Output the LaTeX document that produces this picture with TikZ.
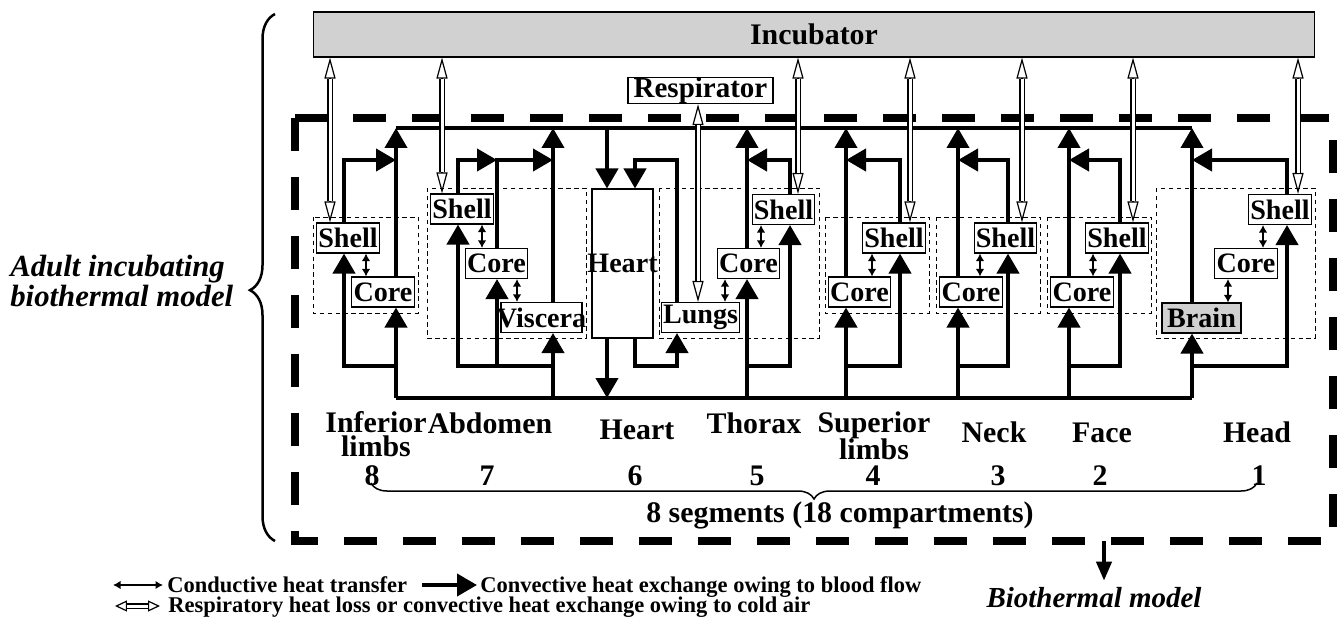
\documentclass[tikz,border=0pt]{standalone}
\usepackage{fontspec}
\setmainfont{Liberation Serif}
\usetikzlibrary{arrows.meta,decorations.pathreplacing}

\begin{document}
\begin{tikzpicture}[
    x=0.02cm, y=-0.02cm,
    font=\bfseries\fontsize{17}{14}\selectfont,
    compartment/.style={
        draw,
        line width=0.6pt,
        fill=white,
        inner xsep=1pt,
        inner ysep=0pt,
        minimum width=1.22cm,
        minimum height=0.6cm,
        font=\bfseries\fontsize{16}{16}\selectfont
    },
    group/.style={draw, line width=0.5pt, dash pattern=on 2.5pt off 2pt},
    boundary/.style={line width=0.17cm, dash pattern=on 0.66cm off 0.52cm},
    vessel/.style={line width=0.08cm},
    blood/.style={vessel, -{Triangle[length=0.4cm,width=0.44cm]}},
    conduction/.style={line width=0.035cm,
        {Latex[length=0.15cm,width=0.17cm]}-{Latex[length=0.15cm,width=0.17cm]}},
    airflow/.style={line width=0.024cm,
        {Triangle[open,length=#1,width=0.22cm]}-{Triangle[open,length=#1,width=0.22cm]},
        postaction={draw, -, double, double distance=0.06cm,
            shorten <=#1, shorten >=#1}},
    airflow/.default=0.42cm,
    segment/.style={inner sep=0pt, align=center,
        font=\bfseries\fontsize{17}{14}\selectfont},
    legend/.style={anchor=base west, inner sep=0pt,
        font=\bfseries\fontsize{12.8}{15}\selectfont}
]
    \useasboundingbox (0,0) rectangle (1338,629);

    % levels of the two main vessels and of the branches
    \coordinate (top) at (0,128);
    \coordinate (up) at (0,160);
    \coordinate (lo) at (0,366);
    \coordinate (bot) at (0,398);

    % x of the risers, of the air arrows and of the conduction arrows
    \coordinate (sh8) at (344,0);  \coordinate (co8) at (396,0);
    \coordinate (in8) at (330,0);  \coordinate (cd8) at (366,0);
    \coordinate (sh7) at (458,0);  \coordinate (co7) at (497,0);
    \coordinate (vi7) at (553,0);  \coordinate (in7) at (442,0);
    \coordinate (cd7) at (482,0);  \coordinate (cv7) at (517,0);
    \coordinate (ha) at (607,0);   \coordinate (hb) at (635,0);
    \coordinate (lu) at (677,0);   \coordinate (re) at (698,0);
    \coordinate (co5) at (747,0);  \coordinate (sh5) at (790,0);
    \coordinate (in5) at (798,0);  \coordinate (cd5) at (761,0);
    \coordinate (cl5) at (725,0);
    \coordinate (co4) at (846,0);  \coordinate (sh4) at (900,0);
    \coordinate (in4) at (910,0);  \coordinate (cd4) at (872,0);
    \coordinate (co3) at (958,0);  \coordinate (sh3) at (1008,0);
    \coordinate (in3) at (1022,0); \coordinate (cd3) at (980,0);
    \coordinate (co2) at (1069,0); \coordinate (sh2) at (1120,0);
    \coordinate (in2) at (1133,0); \coordinate (cd2) at (1093,0);
    \coordinate (br1) at (1192,0); \coordinate (sh1) at (1287,0);
    \coordinate (in1) at (1298,0); \coordinate (cd1) at (1263,0);
    \coordinate (cb1) at (1228,0);

    \draw[boundary] (295,118) rectangle (1333,541);

    \node[compartment, fill=black!18, minimum width=20.04cm, minimum height=0.9cm,
        font=\bfseries\fontsize{17}{17}\selectfont] (incubator) at (814,34.5) {Incubator};
    \node[compartment, minimum width=2.9cm, minimum height=0.5cm,
        font=\bfseries\fontsize{16.5}{16.5}\selectfont] (respirator) at (700.5,90.5) {Respirator};

    % segment 8
    \draw[group] (313,217) rectangle (418,313);
    \node[compartment] (shell8) at (348,238) {Shell};
    \node[compartment] (core8) at (383,292) {Core};
    % segment 7
    \draw[group] (427,188) rectangle (586,338);
    \node[compartment] (shell7) at (462,209) {Shell};
    \node[compartment] (core7) at (496.5,263.5) {Core};
    \node[compartment, minimum width=1.62cm] (viscera7) at (541.5,317.5) {\makebox[0pt]{Viscera}};
    % segment 6
    \node[compartment, minimum height=2.98cm] (heart) at (622.5,263.5) {\makebox[0pt]{Heart}};
    % segment 5
    \draw[group] (659,188) rectangle (819,338);
    \node[compartment, minimum width=1.5cm] (lungs5) at (700.5,317.5) {Lungs};
    \node[compartment] (core5) at (748.5,263.5) {Core};
    \node[compartment] (shell5) at (783.5,209.5) {Shell};
    % segment 4
    \draw[group] (825,217) rectangle (929,313);
    \node[compartment] (core4) at (859.5,292) {Core};
    \node[compartment] (shell4) at (894,238) {Shell};
    % segment 3
    \draw[group] (936,217) rectangle (1040,313);
    \node[compartment] (core3) at (971,292) {Core};
    \node[compartment] (shell3) at (1005.5,238) {Shell};
    % segment 2
    \draw[group] (1047,217) rectangle (1151,313);
    \node[compartment] (core2) at (1082,292) {Core};
    \node[compartment] (shell2) at (1117,238) {Shell};
    % segment 1
    \draw[group] (1156,188) rectangle (1315,338);
    \node[compartment, fill=black!18, minimum width=1.58cm] (brain1) at (1201.5,318) {Brain};
    \node[compartment] (core1) at (1246,263.5) {Core};
    \node[compartment] (shell1) at (1280,209.5) {Shell};

    % main vessels
    \draw[vessel] (co8 |- top) -- (br1 |- top);
    \draw[vessel] (co8 |- bot) -- (br1 |- bot);

    % blood flow, segment 8
    \draw[blood] (co8 |- bot) -- (co8 |- core8.south);
    \draw[blood] (co8 |- lo) -| (sh8 |- shell8.south);
    \draw[blood] (sh8 |- shell8.north) |- (co8 |- up);
    \draw[blood] (co8 |- core8.north) -- (co8 |- top);
    \draw[conduction] (cd8 |- shell8.south) -- (cd8 |- core8.north);

    % blood flow, segment 7
    \draw[blood] (vi7 |- bot) -- (vi7 |- viscera7.south);
    \draw[blood] (vi7 |- lo) -| (sh7 |- shell7.south);
    \draw[blood] (co7 |- lo) -- (co7 |- core7.south);
    \draw[blood] (sh7 |- shell7.north) |- (co7 |- up);
    \draw[blood] (co7 |- core7.north) |- (vi7 |- up);
    \draw[blood] (vi7 |- viscera7.north) -- (vi7 |- top);
    \draw[conduction] (cd7 |- shell7.south) -- (cd7 |- core7.north);
    \draw[conduction] (cv7 |- core7.south) -- (cv7 |- viscera7.north);

    % blood flow, heart and lungs
    \draw[blood] (ha |- top) -- (ha |- heart.north);
    \draw[blood] (lu |- lungs5.north) |- (hb |- up) -- (hb |- heart.north);
    \draw[blood] (ha |- heart.south) -- (ha |- bot);
    \draw[blood] (hb |- heart.south) |- (lu |- lo) -- (lu |- lungs5.south);

    % blood flow, segment 5
    \draw[blood] (co5 |- bot) -- (co5 |- core5.south);
    \draw[blood] (co5 |- lo) -| (sh5 |- shell5.south);
    \draw[blood] (sh5 |- shell5.north) |- (co5 |- up);
    \draw[blood] (co5 |- core5.north) -- (co5 |- top);
    \draw[conduction] (cl5 |- lungs5.north) -- (cl5 |- core5.south);
    \draw[conduction] (cd5 |- core5.north) -- (cd5 |- shell5.south);

    % blood flow, segment 4
    \draw[blood] (co4 |- bot) -- (co4 |- core4.south);
    \draw[blood] (co4 |- lo) -| (sh4 |- shell4.south);
    \draw[blood] (sh4 |- shell4.north) |- (co4 |- up);
    \draw[blood] (co4 |- core4.north) -- (co4 |- top);
    \draw[conduction] (cd4 |- core4.north) -- (cd4 |- shell4.south);

    % blood flow, segment 3
    \draw[blood] (co3 |- bot) -- (co3 |- core3.south);
    \draw[blood] (co3 |- lo) -| (sh3 |- shell3.south);
    \draw[blood] (sh3 |- shell3.north) |- (co3 |- up);
    \draw[blood] (co3 |- core3.north) -- (co3 |- top);
    \draw[conduction] (cd3 |- core3.north) -- (cd3 |- shell3.south);

    % blood flow, segment 2
    \draw[blood] (co2 |- bot) -- (co2 |- core2.south);
    \draw[blood] (co2 |- lo) -| (sh2 |- shell2.south);
    \draw[blood] (sh2 |- shell2.north) |- (co2 |- up);
    \draw[blood] (co2 |- core2.north) -- (co2 |- top);
    \draw[conduction] (cd2 |- core2.north) -- (cd2 |- shell2.south);

    % blood flow, segment 1
    \draw[blood] (br1 |- bot) -- (br1 |- brain1.south);
    \draw[blood] (br1 |- lo) -| (sh1 |- shell1.south);
    \draw[blood] (sh1 |- shell1.north) |- (br1 |- up);
    \draw[blood] (br1 |- brain1.north) -- (br1 |- top);
    \draw[conduction] (cd1 |- core1.north) -- (cd1 |- shell1.south);
    \draw[conduction] (cb1 |- brain1.north) -- (cb1 |- core1.south);

    % air exchange with the incubator and the respirator
    \draw[airflow] (in8 |- incubator.south) -- (in8 |- shell8.north);
    \draw[airflow] (in7 |- incubator.south) -- (in7 |- shell7.north);
    \draw[airflow] (in5 |- incubator.south) -- (in5 |- shell5.north);
    \draw[airflow] (in4 |- incubator.south) -- (in4 |- shell4.north);
    \draw[airflow] (in3 |- incubator.south) -- (in3 |- shell3.north);
    \draw[airflow] (in2 |- incubator.south) -- (in2 |- shell2.north);
    \draw[airflow] (in1 |- incubator.south) -- (in1 |- shell1.north);
    \draw[airflow] (re |- respirator.south) -- (re |- lungs5.north);

    % segment names and numbers
    \node[segment, anchor=north] (name8) at (376,411) {Inferior\\limbs};
    \node[segment, anchor=base] (name7) at (490,433) {Abdomen};
    \node[segment, anchor=base] (name6) at (637,439) {Heart};
    \node[segment, anchor=base] (name5) at (754,433) {Thorax};
    \node[segment, anchor=north] (name4) at (874,411) {Superior\\[-1pt]limbs};
    \node[segment, anchor=base] (name3) at (994,442) {Neck};
    \node[segment, anchor=base] (name2) at (1102,442) {Face};
    \node[segment, anchor=base] (name1) at (1257,442) {Head};
    \node[segment, anchor=base] (num8) at (372,485) {8};
    \node[segment, anchor=base] (num7) at (487,485) {7};
    \node[segment, anchor=base] (num6) at (635,485) {6};
    \node[segment, anchor=base] (num5) at (757,485) {5};
    \node[segment, anchor=base] (num4) at (873,485) {4};
    \node[segment, anchor=base] (num3) at (998,485) {3};
    \node[segment, anchor=base] (num2) at (1100,485) {2};
    \node[segment, anchor=base] (num1) at (1259,485) {1};
    \draw[decorate, decoration={brace, amplitude=0.32cm}, line width=0.03cm]
        (1257,483) -- (371,483);
    \node[segment, anchor=base] (segments) at (840,522) {8 segments (18 compartments)};

    % model names
    \draw[decorate, decoration={brace, amplitude=0.5cm, aspect=0.476}, line width=0.05cm]
        (275,541) -- (275,14);
    \node[anchor=west, align=left, inner sep=0pt,
        font=\bfseries\itshape\fontsize{17.5}{17}\selectfont] (adultmodel) at (10,281)
        {Adult incubating\\biothermal model};
    \node[anchor=base, font=\bfseries\itshape\fontsize{16.5}{16.5}\selectfont]
        (biomodel) at (1094,607) {Biothermal model};
    \coordinate (bio) at (1104,541);
    \draw[blood, -{Triangle[length=0.38cm,width=0.3cm]}] (bio) -- (bio |- biomodel.north);

    % legend
    \coordinate (lgc1) at (113,585); \coordinate (lgc2) at (163,585);
    \coordinate (lgb1) at (422,585); \coordinate (lgb2) at (477,585);
    \coordinate (lga1) at (115,606); \coordinate (lga2) at (160,606);
    \draw[conduction] (lgc1) -- (lgc2);
    \node[legend] (lgcond) at (167,592) {Conductive heat transfer};
    \draw[blood] (lgb1) -- (lgb2);
    \node[legend] (lgblood) at (480,592) {Convective heat exchange owing to blood flow};
    \draw[airflow=0.24cm] (lga1) -- (lga2);
    \node[legend] (lgair) at (168,612)
        {Respiratory heat loss or convective heat exchange owing to cold air};
\end{tikzpicture}
\end{document}
